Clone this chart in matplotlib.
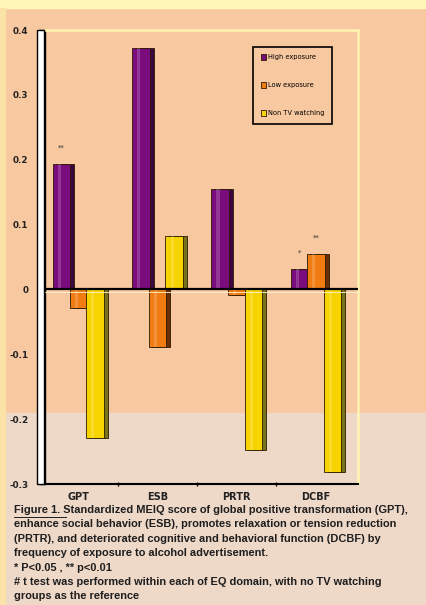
import numpy as np
import matplotlib
matplotlib.use("Agg")
from matplotlib import pyplot as plt
from matplotlib.patches import Rectangle
from matplotlib.lines import Line2D

categories = ["GPT", "ESB", "PRTR", "DCBF"]
series_names = ["High exposure", "Low exposure", "Non TV watching"]
high_exposure = [0.194, 0.372, 0.155, 0.032]
low_exposure = [-0.028, -0.088, -0.008, 0.055]
non_tv = [-0.229, 0.082, -0.248, -0.281]
stars = {(0, 0): "**", (3, 0): "*", (3, 1): "**"}
ytick_values = [-0.3, -0.2, -0.1, 0, 0.1, 0.2, 0.3, 0.4]
ytick_labels = ["-0.3", "-0.2", "-0.1", "0", "0.1", "0.2", "0.3", "0.4"]

caption = ("Figure 1. Standardized MEIQ score of global positive transformation (GPT),\n"
           "enhance social behavior (ESB), promotes relaxation or tension reduction\n"
           "(PRTR), and deteriorated cognitive and behavioral function (DCBF) by\n"
           "frequency of exposure to alcohol advertisement.\n"
           "* P<0.05 , ** p<0.01\n"
           "# t test was performed within each of EQ domain, with no TV watching\n"
           "groups as the reference")

face_cols = ["#7B0C7E", "#F07C12", "#F7D400"]
side_cols = ["#3E0640", "#6A2E08", "#77741C"]

W, H = 426, 605
fig = plt.figure(figsize=(W / 100, H / 100), dpi=100)
fig.patch.set_facecolor("#F8C8A0")

# lighter lower band + yellow top / left strips
fig.add_artist(Rectangle((0, 0), 1, 1 - 413 / H, transform=fig.transFigure,
                         color="#EED8C8", zorder=-5))
fig.add_artist(Rectangle((0, 1 - 8 / H), 1, 8 / H, transform=fig.transFigure,
                         color="#FFF6B8", zorder=-4))
fig.add_artist(Rectangle((0, 0), 5 / W, 1 - 8 / H, transform=fig.transFigure,
                         color="#FBE3A8", zorder=-4))

ax = fig.add_axes([45 / W, 1 - 484 / H, 313 / W, 454 / H])
ax.set_facecolor("none")

x = np.arange(len(categories))
width = 0.22
offs = [-0.21, 0.0, 0.21]
depth = 0.05
data = [high_exposure, low_exposure, non_tv]

for i, vals in enumerate(data):
    xs = x + offs[i]
    # side face for a fake 3D look
    ax.bar(xs + depth, vals, width, color=side_cols[i], edgecolor="#2A1A00",
           linewidth=0.6, zorder=2)
    ax.bar(xs, vals, width, color=face_cols[i], edgecolor="#2A1A00",
           linewidth=0.6, zorder=3, label=series_names[i])
    # highlight stripe
    ax.bar(xs - width * 0.12, vals, width * 0.18, color="white", alpha=0.18,
           linewidth=0, zorder=4)

for (ci, si), s in stars.items():
    v = data[si][ci]
    ax.text(x[ci] + offs[si], v + 0.02, s, ha="center", va="bottom",
            fontsize=5, color="#333333", zorder=5)

ax.axhline(0, color="black", lw=1.6, zorder=6)
ax.axhline(-0.004, color="#FFF3D0", lw=0.6, zorder=6)

ax.set_xlim(-0.42, 3.53)
ax.set_ylim(-0.3, 0.4)
ax.set_yticks(ytick_values)
ax.set_yticklabels(ytick_labels, fontsize=6.3, fontweight="bold", color="#222222")
ax.set_xticks(x)
ax.set_xticklabels(categories, fontsize=7, fontweight="bold", color="#222222")
ax.set_xticks(x[:-1] + 0.5, minor=True)
ax.tick_params(axis="x", which="major", length=0, pad=6)
ax.tick_params(axis="x", which="minor", length=3, width=1, color="black",
               direction="inout")
ax.tick_params(axis="y", length=4, width=1, color="black", pad=8)

for side in ["top", "right"]:
    ax.spines[side].set_color("#FFF4B0")
    ax.spines[side].set_linewidth(1.8)
ax.spines["bottom"].set_color("black")
ax.spines["bottom"].set_linewidth(1.5)
ax.spines["left"].set_color("black")
ax.spines["left"].set_linewidth(1)

# left wall of the 3D box
fig.add_artist(Rectangle((37 / W, 1 - 484 / H), 7 / W, 454 / H,
                         transform=fig.transFigure, facecolor="white",
                         edgecolor="black", linewidth=1, zorder=3))

leg = ax.legend(loc="upper left", bbox_to_anchor=(0.655, 0.97), fontsize=4.8,
                frameon=True, fancybox=False, edgecolor="black",
                facecolor="#F8C8A0", framealpha=1, labelspacing=3.3,
                handlelength=0.8, handleheight=0.8, borderpad=1.1,
                handletextpad=0.3)
leg.get_frame().set_linewidth(1.2)

fig.text(14 / W, 1 - 505 / H, caption, ha="left", va="top", fontsize=7.9,
         color="#1E1E1E", linespacing=1.55, fontweight="semibold",
         family="Liberation Sans")
fig.add_artist(Line2D([14 / W, 66 / W], [1 - 517 / H, 1 - 517 / H],
                      transform=fig.transFigure, color="#1E1E1E", lw=0.7))

fig.savefig("out.png", dpi=100, facecolor=fig.get_facecolor())
